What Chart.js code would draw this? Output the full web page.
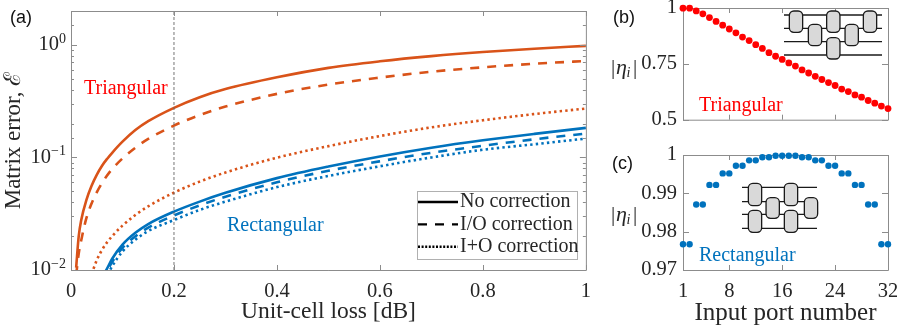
<!DOCTYPE html>
<html>
<head>
<meta charset="utf-8">
<style>
html, body { margin: 0; padding: 0; background: #fff; overflow: hidden; width: 897px; height: 325px; }
canvas { position: absolute; }
</style>
<script src="https://cdn.jsdelivr.net/npm/chart.js@4"></script>
</head>
<body>
<canvas id="panelA" width="600" height="336" style="left:0;top:-10px"></canvas>
<canvas id="panelB" width="310" height="150" style="left:600px;top:-12px"></canvas>
<canvas id="panelC" width="310" height="193" style="left:600px;top:135px"></canvas>
<script>
// panel (a) values
let lossDb = [0.01, 0.015, 0.02, 0.03, 0.04, 0.05, 0.06, 0.07, 0.08, 0.1, 0.125, 0.15, 0.2, 0.25, 0.3, 0.4, 0.5, 0.6, 0.7, 0.8, 0.9, 1];
let triNone = [0.0105, 0.02, 0.028, 0.042, 0.056, 0.07, 0.084, 0.097, 0.11, 0.138, 0.175, 0.21, 0.276, 0.343, 0.405, 0.515, 0.625, 0.715, 0.795, 0.865, 0.925, 0.98];
let triIO = [0.009, 0.014, 0.0185, 0.029, 0.039, 0.049, 0.059, 0.069, 0.079, 0.098, 0.122, 0.146, 0.192, 0.238, 0.283, 0.367, 0.444, 0.512, 0.578, 0.632, 0.68, 0.72];
let triIplusO = [null, null, null, null, 0.0092, 0.0122, 0.015, 0.0176, 0.02, 0.0248, 0.0308, 0.0368, 0.0487, 0.061, 0.0735, 0.0995, 0.126, 0.155, 0.185, 0.214, 0.243, 0.272];
let rectNone = [null, null, null, null, null, null, 0.0085, 0.0103, 0.0126, 0.0168, 0.0214, 0.0256, 0.033, 0.0405, 0.0485, 0.0655, 0.083, 0.102, 0.122, 0.142, 0.162, 0.183];
let rectIO = [null, null, null, null, null, null, 0.0078, 0.0097, 0.0118, 0.0157, 0.0199, 0.0238, 0.0305, 0.0375, 0.0448, 0.0602, 0.0762, 0.0925, 0.11, 0.127, 0.145, 0.163];
let rectIplusO = [null, null, null, null, null, null, 0.0066, 0.0088, 0.0108, 0.0146, 0.0186, 0.0222, 0.0278, 0.0342, 0.0405, 0.0545, 0.0685, 0.0835, 0.1, 0.117, 0.131, 0.147];
let refLineX = [0.2, 0.2];
let refLineY = [0.01, 2];
let legendNames = ["No correction", "I/O correction", "I+O correction"];
let decadeValues = [1, 0.1, 0.01];
let decadeExps = ["0", "−1", "−2"];

// panels (b) and (c)
let ports = [1, 2, 3, 4, 5, 6, 7, 8, 9, 10, 11, 12, 13, 14, 15, 16, 17, 18, 19, 20, 21, 22, 23, 24, 25, 26, 27, 28, 29, 30, 31, 32];
let triEta = [0.999, 0.999, 0.987, 0.974, 0.957, 0.94, 0.923, 0.906, 0.889, 0.87, 0.854, 0.836, 0.819, 0.8, 0.784, 0.77, 0.754, 0.74, 0.723, 0.709, 0.694, 0.68, 0.666, 0.653, 0.637, 0.626, 0.611, 0.601, 0.586, 0.574, 0.561, 0.55];
let rectEta = [0.9767, 0.9767, 0.9871, 0.9871, 0.9922, 0.9922, 0.9952, 0.9952, 0.9972, 0.9972, 0.9986, 0.9986, 0.9994, 0.9994, 0.9998, 0.9998, 0.9998, 0.9998, 0.9994, 0.9994, 0.9986, 0.9986, 0.9972, 0.9972, 0.9952, 0.9952, 0.9922, 0.9922, 0.9871, 0.9871, 0.9767, 0.9767];

let portTicks = [1, 8, 16, 24, 32];
let triEtaTicks = [0.5, 0.75, 1];
let rectEtaTicks = [0.97, 0.98, 0.99, 1];
let lossTicks = [0, 0.2, 0.4, 0.6, 0.8, 1];

const ORANGE = "#D95319";
const BLUE = "#0072BD";
const RED = "#FF0000";
const SERIF = "'Liberation Serif', serif";
const SANS = "'Liberation Sans', sans-serif";
const TEXTCOL = "#262626";
const AXISCOL = "#8c8c8c";

function pairs(xs, ys) {
    return xs.map((x, i) => ({ x: x, y: ys[i] }));
}

function curve(ys, color, dash, width) {
    return {
        data: pairs(lossDb, ys),
        borderColor: color,
        borderWidth: width,
        borderDash: dash,
        pointRadius: 0,
        fill: false,
        cubicInterpolationMode: "monotone",
        spanGaps: false
    };
}

function fixedTicks(list) {
    return function (scale) {
        scale.ticks = list.map(v => ({ value: v }));
    };
}

// box round the plot with inward ticks on all sides
function drawBox(chart, majorOf) {
    let ctx = chart.ctx;
    let a = chart.chartArea;
    ctx.save();
    ctx.strokeStyle = AXISCOL;
    ctx.lineWidth = 1;
    ctx.beginPath();
    ctx.rect(a.left + 0.5, a.top + 0.5, a.right - a.left, a.bottom - a.top);
    for (let t of chart.scales.x.ticks) {
        let px = Math.round(chart.scales.x.getPixelForValue(t.value)) + 0.5;
        ctx.moveTo(px, a.bottom);
        ctx.lineTo(px, a.bottom - 5);
        ctx.moveTo(px, a.top);
        ctx.lineTo(px, a.top + 5);
    }
    for (let t of chart.scales.y.ticks) {
        let py = Math.round(chart.scales.y.getPixelForValue(t.value)) + 0.5;
        let len = majorOf(t.value) ? 6 : 3;
        ctx.moveTo(a.left, py);
        ctx.lineTo(a.left + len, py);
        ctx.moveTo(a.right, py);
        ctx.lineTo(a.right - len, py);
    }
    ctx.stroke();
    ctx.restore();
}

function text(ctx, str, x, y, font, color) {
    ctx.font = font;
    ctx.fillStyle = color;
    ctx.textAlign = "left";
    ctx.textBaseline = "middle";
    ctx.fillText(str, x, y);
}

// 10 with a raised exponent, right edge at x
function decadeLabel(ctx, exp, x, y) {
    ctx.font = "14px " + SERIF;
    let w = ctx.measureText(exp).width;
    text(ctx, exp, x - w, y - 6, "14px " + SERIF, TEXTCOL);
    ctx.font = "20.5px " + SERIF;
    let w10 = ctx.measureText("10").width;
    text(ctx, "10", x - w - w10, y, "20.5px " + SERIF, TEXTCOL);
}

// |eta_i| side label
function etaLabel(ctx, x, y) {
    text(ctx, "|", x, y, "21px " + SERIF, TEXTCOL);
    text(ctx, "η", x + 5, y, "italic 22px " + SERIF, TEXTCOL);
    text(ctx, "i", x + 15.5, y + 5, "italic 14px " + SERIF, TEXTCOL);
    text(ctx, "|", x + 22, y, "21px " + SERIF, TEXTCOL);
}

// mesh sketch: lines across, grey cells each joining two neighbouring lines
function drawMesh(ctx, x0, x1, lineYs, cells, w) {
    ctx.save();
    ctx.strokeStyle = "#1a1a1a";
    ctx.lineWidth = 1.3;
    for (let y of lineYs) {
        ctx.beginPath();
        ctx.moveTo(x0, y);
        ctx.lineTo(x1, y);
        ctx.stroke();
    }
    ctx.fillStyle = "#d9d9d9";
    for (let c of cells) {
        let top = lineYs[c[1]] - 4;
        let h = lineYs[c[1] + 1] + 4 - top;
        ctx.beginPath();
        ctx.roundRect(c[0] - w / 2, top, w, h, 4.5);
        ctx.fill();
        ctx.stroke();
    }
    ctx.restore();
}

function drawLegend(ctx) {
    ctx.save();
    ctx.fillStyle = "#fff";
    ctx.strokeStyle = "#b0b0b0";
    ctx.lineWidth = 1;
    ctx.fillRect(417, 191, 160, 68);
    ctx.strokeRect(417.5, 191.5, 160, 68);
    let dashes = [[], [9, 8], [2, 1.6]];
    for (let i = 0; i < 3; i++) {
        let y = 202 + i * 22.4;
        ctx.strokeStyle = "#000";
        ctx.lineWidth = 2.4;
        ctx.setLineDash(dashes[i]);
        ctx.beginPath();
        ctx.moveTo(418, y);
        ctx.lineTo(458, y);
        ctx.stroke();
        ctx.setLineDash([]);
        text(ctx, legendNames[i], 460, y, "20px " + SERIF, TEXTCOL);
    }
    ctx.restore();
}

function baseOptions(pad, xOpts, yOpts, yWidth, xHeight) {
    xOpts.afterFit = s => { s.height = xHeight; };
    yOpts.afterFit = s => { s.width = yWidth; };
    return {
        responsive: false,
        animation: false,
        layout: { padding: pad },
        plugins: { legend: { display: false }, tooltip: { enabled: false } },
        scales: { x: xOpts, y: yOpts }
    };
}

function tickStyle(padding, callback) {
    return {
        padding: padding,
        autoSkip: false,
        maxRotation: 0,
        minRotation: 0,
        color: TEXTCOL,
        font: { family: SERIF, size: 20.5 },
        callback: callback
    };
}

function PlaceA() {
    let xOpts = {
        type: "linear", min: 0, max: 1,
        grid: { display: false, drawTicks: false },
        border: { display: false },
        afterBuildTicks: fixedTicks(lossTicks),
        ticks: tickStyle(9, v => String(v)),
        title: { display: true, text: "Unit-cell loss [dB]", color: TEXTCOL, font: { family: SERIF, size: 23.5 }, padding: { top: 0, bottom: 0 } }
    };
    let yOpts = {
        type: "logarithmic", min: 0.01, max: 2,
        grid: { display: false, drawTicks: false },
        border: { display: false },
        ticks: tickStyle(6, () => ""),
        title: { display: true, text: "Matrix error, ℰ", color: TEXTCOL, font: { family: SERIF, size: 23 }, padding: { top: 0, bottom: 0 } }
    };
    new Chart(document.getElementById("panelA"), {
        type: "line",
        data: {
            datasets: [
                { data: pairs(refLineX, refLineY), borderColor: "#666", borderWidth: 0.9, borderDash: [3, 2], pointRadius: 0 },
                curve(triNone, ORANGE, [], 2.6),
                curve(triIO, ORANGE, [9, 8], 2.6),
                curve(triIplusO, ORANGE, [2.4, 3.2], 2.6),
                curve(rectNone, BLUE, [], 2.6),
                curve(rectIO, BLUE, [9, 8], 2.6),
                curve(rectIplusO, BLUE, [2.4, 3.2], 2.6)
            ]
        },
        options: baseOptions({ top: 21, right: 13 }, xOpts, yOpts, 71, 56),
        plugins: [{
            id: "extrasA",
            afterDraw(chart) {
                let ctx = chart.ctx;
                drawBox(chart, v => decadeValues.includes(v));
                decadeValues.forEach((v, i) => {
                    decadeLabel(ctx, decadeExps[i], 66, chart.scales.y.getPixelForValue(v));
                });
                // canvas is shifted up by 10
                ctx.save();
                ctx.translate(0, 10);
                drawLegend(ctx);
                text(ctx, "(a)", 10, 18, "18px " + SANS, "#111");
                text(ctx, "Triangular", 84, 89, "20px " + SERIF, RED);
                text(ctx, "Rectangular", 227, 226, "20px " + SERIF, BLUE);
                ctx.restore();
            }
        }]
    });
}

function PlaceB() {
    let xOpts = {
        type: "linear", min: 1, max: 32,
        grid: { display: false, drawTicks: false },
        border: { display: false },
        afterBuildTicks: fixedTicks(portTicks),
        ticks: { display: false }
    };
    let yOpts = {
        type: "linear", min: 0.5, max: 1,
        grid: { display: false, drawTicks: false },
        border: { display: false },
        afterBuildTicks: fixedTicks(triEtaTicks),
        ticks: tickStyle(6, v => String(v))
    };
    new Chart(document.getElementById("panelB"), {
        type: "scatter",
        data: { datasets: [{ data: pairs(ports, triEta), backgroundColor: RED, borderWidth: 0, pointRadius: 3.4, clip: false }] },
        options: baseOptions({ top: 20, right: 22 }, xOpts, yOpts, 83, 13),
        plugins: [{
            id: "extrasB",
            beforeDatasetsDraw(chart) {
                drawBox(chart, () => true);
                // inset sits in panel coordinates, canvas is shifted 600,-12
                drawMesh(chart.ctx, 184, 282, [27, 40.3, 53.7, 67],
                    [[196, 0], [215, 1], [233.3, 0], [233.3, 2], [251.7, 1], [270, 0]], 13.3);
            },
            afterDraw(chart) {
                let ctx = chart.ctx;
                text(ctx, "(b)", 13, 30, "18px " + SANS, "#111");
                etaLabel(ctx, 11, 80);
                text(ctx, "Triangular", 99, 118, "20px " + SERIF, RED);
            }
        }]
    });
}

function PlaceC() {
    let xOpts = {
        type: "linear", min: 1, max: 32,
        grid: { display: false, drawTicks: false },
        border: { display: false },
        afterBuildTicks: fixedTicks(portTicks),
        ticks: tickStyle(9, v => String(v)),
        title: { display: true, text: "Input port number", color: TEXTCOL, font: { family: SERIF, size: 25 }, padding: { top: 0, bottom: 0 } }
    };
    let yOpts = {
        type: "linear", min: 0.97, max: 1,
        grid: { display: false, drawTicks: false },
        border: { display: false },
        afterBuildTicks: fixedTicks(rectEtaTicks),
        ticks: tickStyle(6, v => String(Number(v.toFixed(2))))
    };
    new Chart(document.getElementById("panelC"), {
        type: "scatter",
        data: { datasets: [{ data: pairs(ports, rectEta), backgroundColor: BLUE, borderWidth: 0, pointRadius: 3.2, clip: false }] },
        options: baseOptions({ top: 20, right: 22 }, xOpts, yOpts, 83, 58),
        plugins: [{
            id: "extrasC",
            beforeDatasetsDraw(chart) {
                drawBox(chart, () => true);
                drawMesh(chart.ctx, 142, 217, [52.3, 66.7, 79.3, 93.3],
                    [[155, 0], [155, 2], [172.7, 1], [191, 0], [191, 2], [211, 1]], 13.3);
            },
            afterDraw(chart) {
                let ctx = chart.ctx;
                text(ctx, "(c)", 12, 29, "18px " + SANS, "#111");
                etaLabel(ctx, 11, 80);
                text(ctx, "Rectangular", 99, 121, "20px " + SERIF, BLUE);
            }
        }]
    });
}

function Main() {
    PlaceA();
    PlaceB();
    PlaceC();
}
Main();
</script>
</body>
</html>
